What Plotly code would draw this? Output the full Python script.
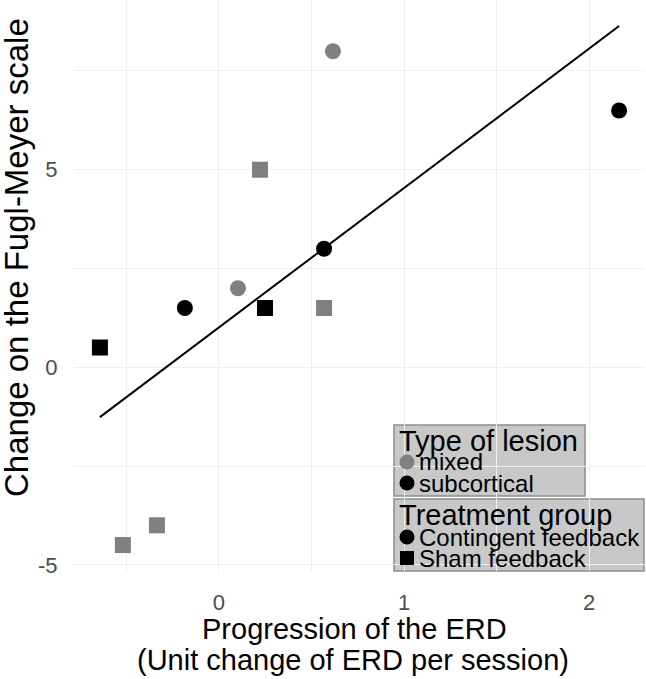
import numpy as np
import plotly.graph_objects as go

# Data
erd = [0.616, 2.162, 0.222, 0.568, 0.103, -0.184, 0.249, 0.568, -0.643, -0.335, -0.519]
fm = [8.0, 6.5, 5.0, 3.0, 2.0, 1.5, 1.5, 1.5, 0.5, -4.0, -4.5]
lesion = ["mixed", "subcortical", "mixed", "subcortical", "mixed", "subcortical",
          "subcortical", "mixed", "subcortical", "mixed", "mixed"]
group = ["Contingent feedback", "Contingent feedback", "Sham feedback", "Contingent feedback",
         "Contingent feedback", "Contingent feedback", "Sham feedback", "Sham feedback",
         "Sham feedback", "Sham feedback", "Sham feedback"]

x_tickvals = [0, 1, 2]
x_ticktext = ["0", "1", "2"]
y_tickvals = [-5, 0, 5]
y_ticktext = ["-5", "0", "5"]

lesion_levels = ["mixed", "subcortical"]
group_levels = ["Contingent feedback", "Sham feedback"]
lesion_colors = {"mixed": "#808080", "subcortical": "#000000"}
group_symbols = {"Contingent feedback": "circle", "Sham feedback": "square"}

FONT = "Liberation Sans, Arial, sans-serif"
W, H = 646, 679
ML, MR, MT, MB = 74, 1, 0, 108
PW, PH = W - ML - MR, H - MT - MB
XR = [-0.783, 2.302]
YR = [-5.157, 9.297]


def px(x):
    return (x - ML) / PW


def py(y):
    return (H - MB - y) / PH


def pdx(x):  # pixel -> x data (for legend keys)
    return XR[0] + px(x) * (XR[1] - XR[0])


def pdy(y):  # pixel -> y data (for legend keys)
    return YR[0] + py(y) * (YR[1] - YR[0])


fig = go.Figure()

# linear fit over the data range
slope, intercept = np.polyfit(erd, fm, 1)
xs = np.array([min(erd), max(erd)])
fig.add_trace(go.Scatter(x=xs, y=slope * xs + intercept, mode="lines",
                         line=dict(color="black", width=2), showlegend=False,
                         hoverinfo="skip"))

for les in lesion_levels:
    for grp in group_levels:
        idx = [i for i in range(len(erd)) if lesion[i] == les and group[i] == grp]
        if not idx:
            continue
        fig.add_trace(go.Scatter(
            x=[erd[i] for i in idx], y=[fm[i] for i in idx], mode="markers",
            marker=dict(color=lesion_colors[les], symbol=group_symbols[grp], size=16,
                        opacity=1, line=dict(width=0)),
            showlegend=False))

# ---- manual legends (boxes, titles, keys) ----
shapes = []
annotations = []
boxes = [
    dict(x0=394, x1=585, y0=425, y1=496, title="Type of lesion", ty=441,
         items=[(l, lesion_colors[l], "circle", 15) for l in lesion_levels],
         iy=[462, 483]),
    dict(x0=394, x1=644, y0=499, y1=571, title="Treatment group", ty=515,
         items=[(g, "#000000", group_symbols[g], 15 if group_symbols[g] == "circle" else 14)
                for g in group_levels],
         iy=[537, 558]),
]
key_x, key_y, key_c, key_s, key_sz = [], [], [], [], []
for b in boxes:
    shapes.append(dict(type="rect", xref="paper", yref="paper",
                       x0=px(b["x0"]), x1=px(b["x1"]), y0=py(b["y1"]), y1=py(b["y0"]),
                       fillcolor="#c8c8c8", line=dict(color="#8c8c8c", width=1.5),
                       layer="between"))
    annotations.append(dict(text=b["title"], xref="paper", yref="paper",
                            x=px(397), y=py(b["ty"]), xanchor="left", yanchor="middle",
                            showarrow=False, font=dict(family=FONT, size=29, color="black")))
    for (label, col, sym, sz), yy in zip(b["items"], b["iy"]):
        annotations.append(dict(text=label, xref="paper", yref="paper",
                                x=px(417), y=py(yy), xanchor="left", yanchor="middle",
                                showarrow=False,
                                font=dict(family=FONT, size=24, color="black")))
        key_x.append(pdx(407))
        key_y.append(pdy(yy))
        key_c.append(col)
        key_s.append(sym)
        key_sz.append(sz)

fig.add_trace(go.Scatter(x=key_x, y=key_y, mode="markers",
                         marker=dict(color=key_c, symbol=key_s, size=key_sz, opacity=1,
                                     line=dict(width=0)),
                         showlegend=False, hoverinfo="skip", cliponaxis=False))

# axis titles as annotations for exact placement
annotations.append(dict(text="Change on the Fugl-Meyer scale", xref="paper", yref="paper",
                        x=px(16), y=py(258), textangle=-90, showarrow=False,
                        xanchor="center", yanchor="middle",
                        font=dict(family=FONT, size=33, color="black")))
annotations.append(dict(text="Progression of the ERD", xref="paper", yref="paper",
                        x=px(354), y=py(629), showarrow=False,
                        xanchor="center", yanchor="middle",
                        font=dict(family=FONT, size=29, color="black")))
annotations.append(dict(text="(Unit change of ERD per session)", xref="paper", yref="paper",
                        x=px(353), y=py(660), showarrow=False,
                        xanchor="center", yanchor="middle",
                        font=dict(family=FONT, size=29, color="black")))

fig.update_layout(
    width=W, height=H,
    margin=dict(l=ML, r=MR, t=MT, b=MB),
    plot_bgcolor="white", paper_bgcolor="white",
    font=dict(family=FONT, color="black"),
    showlegend=False,
    shapes=shapes,
    annotations=annotations,
    xaxis=dict(
        range=XR, tickvals=x_tickvals, ticktext=x_ticktext, automargin=False,
        showgrid=True, gridcolor="#efefef", gridwidth=1,
        minor=dict(dtick=0.5, tick0=0, showgrid=True, gridcolor="#efefef", gridwidth=1),
        zeroline=False, showline=False,
        ticks="outside", ticklen=12, tickcolor="rgba(0,0,0,0)",
        tickfont=dict(family=FONT, size=22, color="#4d4d4d"),
    ),
    yaxis=dict(
        range=YR, tickvals=y_tickvals, ticktext=y_ticktext, automargin=False,
        showgrid=True, gridcolor="#efefef", gridwidth=1,
        minor=dict(dtick=2.5, tick0=0, showgrid=True, gridcolor="#efefef", gridwidth=1),
        zeroline=False, showline=False,
        ticks="outside", ticklen=11, tickcolor="rgba(0,0,0,0)",
        tickfont=dict(family=FONT, size=22, color="#4d4d4d"),
    ),
)

fig.write_html("out.html", config={"displayModeBar": False},
               post_script="document.body.style.margin='0';document.body.style.overflow='hidden';")
